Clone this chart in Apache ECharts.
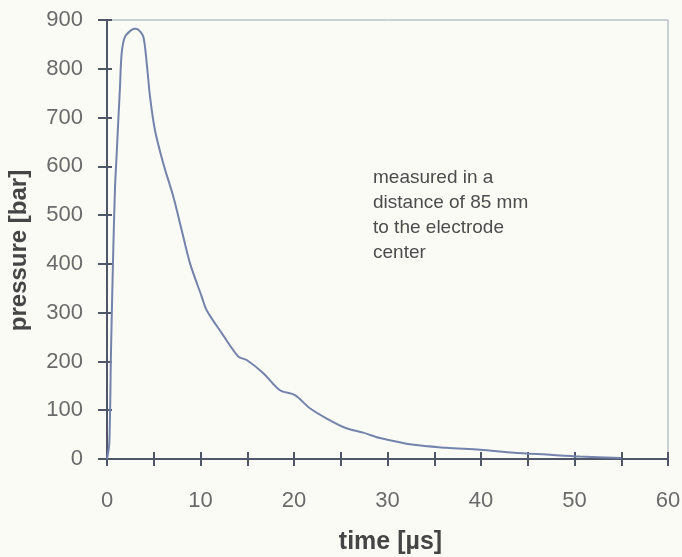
<!DOCTYPE html>
<html>
<head>
<meta charset="utf-8">
<script src="https://cdn.jsdelivr.net/npm/echarts@6/dist/echarts.min.js"></script>
<style>
  html, body { margin: 0; padding: 0; background: #fbfbf6; }
  #main { width: 682px; height: 557px; }
</style>
</head>
<body>
<div id="main"></div>
<script>
// time in microseconds
var times = [0, 0.25, 0.43, 0.67, 0.86, 1.04, 1.21, 1.39, 1.57, 1.93, 2.64, 3.0, 3.35, 3.88, 4.25, 4.6, 5.13, 6.02, 7.09, 7.99, 8.88, 10.13, 10.66, 12.27, 14.04, 14.94, 16.72, 18.5, 20.1, 21.7, 23.5, 25.6, 27.4, 29.2, 32.8, 36.3, 39.9, 43.5, 47.0, 50.6, 55.0];
// pressure in bar
var pressures = [0, 33, 223, 428, 558, 627, 695, 763, 832, 866, 880, 882, 880, 866, 811, 743, 674, 606, 538, 469, 401, 333, 305, 258, 210, 203, 176, 141, 131, 104, 83, 63, 54, 43, 29, 23, 19, 13, 9, 5, 2];
var noteLines = ["measured in a", "distance of 85 mm", "to the electrode", "center"];

var points = [];
for (var i = 0; i < times.length; i++) {
    points.push([times[i], pressures[i]]);
}

var myChart = echarts.init(document.getElementById("main"));

var labelStyle = { color: "#6a6a6a", fontSize: 22, fontFamily: "Liberation Sans" };
var axisColor = "#4f566a";

var option = {
    animation: false,
    backgroundColor: "#fbfbf6",
    grid: {
        left: 107, right: 14, top: 20, bottom: 98,
        containLabel: false, outerBoundsMode: "none",
        show: true, borderColor: "#9ca2b0", borderWidth: 1
    },
    xAxis: [
        {
            type: "value", min: 0, max: 60, interval: 10,
            name: "time [µs]", nameLocation: "middle", nameGap: 71,
            nameTextStyle: { color: "#454545", fontSize: 25, fontWeight: "bold", fontFamily: "Liberation Sans", padding: [0, 0, 0, 6] },
            axisLine: { lineStyle: { color: axisColor, width: 2 } },
            axisTick: { length: 7, lineStyle: { color: axisColor, width: 2 } },
            minorTick: { show: true, splitNumber: 2, length: 7, lineStyle: { color: axisColor, width: 2 } },
            axisLabel: Object.assign({ margin: 31 }, labelStyle),
            splitLine: { show: false }
        },
        {
            // inside half of the crossing ticks
            type: "value", min: 0, max: 60, interval: 5, position: "bottom",
            axisLine: { show: false },
            axisTick: { inside: true, length: 7, lineStyle: { color: axisColor, width: 2 } },
            axisLabel: { show: false },
            splitLine: { show: false }
        }
    ],
    yAxis: [
        {
            type: "value", min: 0, max: 900, interval: 100,
            name: "pressure [bar]", nameLocation: "middle", nameGap: 76,
            nameTextStyle: { color: "#454545", fontSize: 24, fontWeight: "bold", fontFamily: "Liberation Sans", padding: [0, 22, 0, 0] },
            axisLine: { show: true, lineStyle: { color: axisColor, width: 2 } },
            axisTick: { show: true, length: 9, lineStyle: { color: axisColor, width: 2 } },
            axisLabel: Object.assign({ margin: 24, padding: [14, 0, 0, 0] }, labelStyle),
            splitLine: { show: false }
        },
        {
            type: "value", min: 0, max: 900, interval: 100, position: "left",
            axisLine: { show: false },
            axisTick: { show: true, inside: true, length: 5, lineStyle: { color: axisColor, width: 2 } },
            axisLabel: { show: false },
            splitLine: { show: false }
        }
    ],
    graphic: [
        {
            type: "text", left: 373, top: 165,
            style: {
                text: noteLines.join("\n"),
                fill: "#4c4c4c",
                font: "19px Liberation Sans",
                lineHeight: 25
            }
        }
    ],
    series: [
        {
            name: "pressure",
            type: "line",
            data: points,
            showSymbol: false,
            smooth: 0.3,
            lineStyle: { color: "#7383ab", width: 2 }
        }
    ]
};

myChart.setOption(option);
</script>
</body>
</html>
